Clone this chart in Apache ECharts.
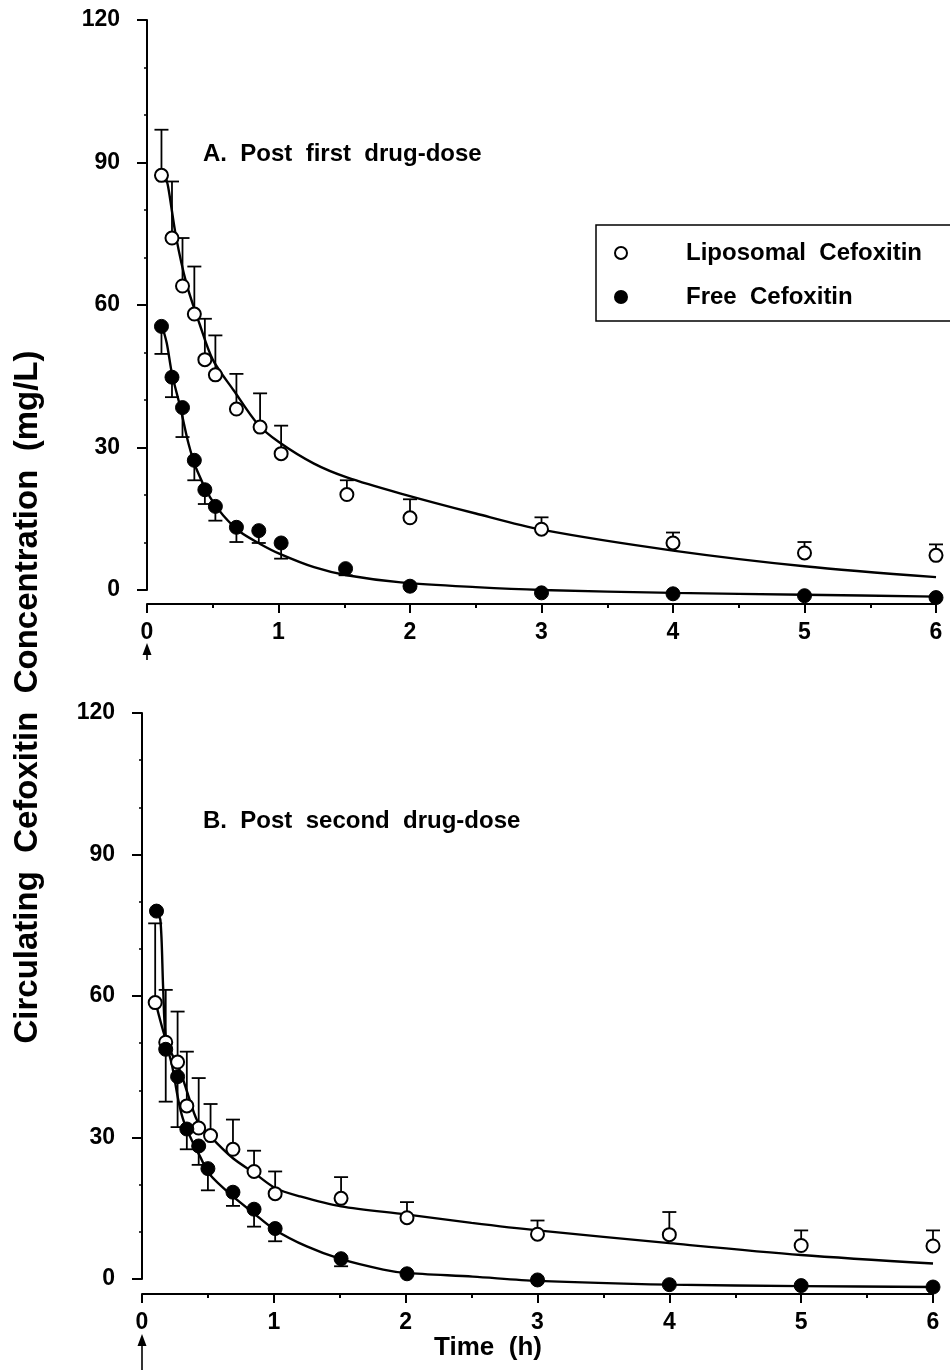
<!DOCTYPE html>
<html>
<head>
<meta charset="UTF-8">
<title>Circulating Cefoxitin Concentration</title>
<script src="https://cdn.jsdelivr.net/npm/echarts@6.0.0/dist/echarts.min.js"></script>
<style>
  html, body { margin: 0; padding: 0; background: #fff; }
  #chart { width: 950px; height: 1370px; }
</style>
</head>
<body>
<div id="chart"></div>
<script>
// =========================
// Data
// =========================
const xTicks = [0, 1, 2, 3, 4, 5, 6];
const yTicks = [0, 30, 60, 90, 120];

// A. Post first drug-dose
const timeA_lipo = [0.11, 0.19, 0.27, 0.36, 0.44, 0.52, 0.68, 0.86, 1.02, 1.52, 2, 3, 4, 5, 6];
const concA_lipo = [87.3, 74.1, 64.0, 58.1, 48.5, 45.3, 38.1, 34.3, 28.7, 20.1, 15.2, 12.8, 9.9, 7.8, 7.3];
const errA_lipo  = [96.9, 86.0, 74.1, 68.1, 57.1, 53.6, 45.5, 41.4, 34.6, 23.1, 19.1, 15.3, 12.1, 10.1, 9.6];

const timeA_free = [0.11, 0.19, 0.27, 0.36, 0.44, 0.52, 0.68, 0.85, 1.02, 1.51, 2, 3, 4, 5, 6];
const concA_free = [55.5, 44.8, 38.4, 27.3, 21.1, 17.6, 13.2, 12.5, 9.9, 4.5, 0.8, -0.6, -0.8, -1.2, -1.6];
const errA_free  = [49.7, 40.6, 32.2, 23.1, 18.1, 14.6, 10.1, 9.9, 6.6, 3.1, null, null, null, null, null];

const fitA_lipo_t = [0.13, 0.16, 0.22, 0.3, 0.4, 0.5, 0.66, 0.84, 1.0, 1.27, 1.52, 1.93, 2.5, 3, 4, 5, 6];
const fitA_lipo_v = [88, 85, 74.5, 64.5, 56, 48.5, 42, 35, 31.2, 26.6, 23.7, 20.3, 16.1, 12.7, 8.3, 5.0, 2.7];
const fitA_free_t = [0.11, 0.15, 0.19, 0.253, 0.316, 0.38, 0.48, 0.58, 0.71, 0.86, 1.01, 1.27, 1.52, 1.93, 2.5, 3, 4, 5, 6];
const fitA_free_v = [56, 52, 45.5, 38.5, 30.8, 25.2, 19.5, 15.7, 12.2, 9.7, 7.6, 4.8, 3.1, 1.6, 0.6, 0, -0.6, -1.0, -1.4];

// B. Post second drug-dose
const timeB_lipo = [0.10, 0.18, 0.27, 0.34, 0.43, 0.52, 0.69, 0.85, 1.01, 1.51, 2.01, 3, 4, 5, 6];
const concB_lipo = [58.6, 50.2, 46.0, 36.7, 32.0, 30.4, 27.5, 22.8, 18.1, 17.1, 13.0, 9.5, 9.4, 7.1, 7.0];
const errB_lipo  = [75.4, 61.3, 56.7, 48.2, 42.6, 37.1, 33.8, 27.2, 22.8, 21.6, 16.3, 12.4, 14.2, 10.3, 10.3];

const timeB_free = [0.11, 0.18, 0.27, 0.34, 0.43, 0.50, 0.69, 0.85, 1.01, 1.51, 2.01, 3, 4, 5, 6];
const concB_free = [78.0, 48.7, 42.9, 31.8, 28.2, 23.4, 18.4, 14.8, 10.7, 4.3, 1.1, -0.2, -1.2, -1.4, -1.7];
const errB_free  = [null, 37.6, 32.2, 27.5, 24.2, 18.8, 15.5, 11.1, 8.0, 2.7, null, null, null, null, null];

const fitB_lipo_t = [0.1, 0.19, 0.29, 0.35, 0.42, 0.52, 0.69, 0.85, 1.01, 1.2, 1.51, 2.0, 2.5, 3, 4, 5, 6];
const fitB_lipo_v = [59, 50, 44, 39, 33.5, 30.2, 25.6, 22.5, 19.3, 17.5, 15.4, 13.7, 11.9, 10.3, 7.6, 5.1, 3.3];
const fitB_free_t = [0.11, 0.14, 0.16, 0.18, 0.23, 0.275, 0.31, 0.36, 0.44, 0.516, 0.69, 0.845, 1.01, 1.25, 1.51, 1.83, 2.0, 2.51, 3, 4, 5, 6];
const fitB_free_v = [78, 76, 62, 51, 45, 38, 34, 30.5, 26, 22.1, 17.5, 14, 10.4, 6.9, 4.2, 2.0, 1.3, 0.5, -0.4, -1.2, -1.5, -1.7];

const LIPO = 'Liposomal Cefoxitin';
const FREE = 'Free Cefoxitin';
const FONT = '"Liberation Sans", Arial, Helvetica, sans-serif';

// =========================
// Helpers
// =========================
const pairs = (xs, ys) => xs.map((x, i) => [x, ys[i]]);
const triples = (xs, ys, es) => xs.map((x, i) => [x, ys[i], es[i] == null ? '-' : es[i]]);

function errorBars(params, api) {
  const e = api.value(2);
  if (isNaN(e)) return null;
  const p1 = api.coord([api.value(0), api.value(1)]);
  const p2 = api.coord([api.value(0), e]);
  const hw = 7;
  const st = { stroke: '#000', lineWidth: 1.8 };
  return {
    type: 'group',
    children: [
      { type: 'line', shape: { x1: p1[0], y1: p1[1], x2: p2[0], y2: p2[1] }, style: st },
      { type: 'line', shape: { x1: p2[0] - hw, y1: p2[1], x2: p2[0] + hw, y2: p2[1] }, style: st }
    ]
  };
}

function panelSeries(idx, d) {
  const common = { xAxisIndex: idx, yAxisIndex: idx };
  return [
    { ...common, type: 'line', name: 'fit lipo ' + idx, data: pairs(d.fl_t, d.fl_v), smooth: 0.3,
      showSymbol: false, clip: false, silent: true, z: 2, lineStyle: { color: '#000', width: 2.4 } },
    { ...common, type: 'line', name: 'fit free ' + idx, data: pairs(d.ff_t, d.ff_v), smooth: 0.3,
      showSymbol: false, clip: false, silent: true, z: 2, lineStyle: { color: '#000', width: 2.4 } },
    { ...common, type: 'custom', name: 'err lipo ' + idx, renderItem: errorBars, z: 3,
      data: triples(d.lt, d.lv, d.le), encode: { x: 0, y: 1 } },
    { ...common, type: 'custom', name: 'err free ' + idx, renderItem: errorBars, z: 3,
      data: triples(d.ft, d.fv, d.fe), encode: { x: 0, y: 1 } },
    { ...common, type: 'scatter', name: LIPO, data: pairs(d.lt, d.lv), symbol: 'circle', symbolSize: 13,
      clip: false, z: 5, itemStyle: { color: '#fff', borderColor: '#000', borderWidth: 2, opacity: 1 } },
    { ...common, type: 'scatter', name: FREE, data: pairs(d.ft, d.fv), symbol: 'circle', symbolSize: 14,
      clip: false, z: 5, itemStyle: { color: '#000', borderColor: '#000', borderWidth: 1, opacity: 1 } }
  ];
}

function xAxisFor(idx, offset) {
  return {
    type: 'value', gridIndex: idx, min: xTicks[0], max: xTicks[xTicks.length - 1], interval: 1,
    offset: offset,
    axisLine: { onZero: false, lineStyle: { color: '#000', width: 2 } },
    axisTick: { length: 9, lineStyle: { color: '#000', width: 2 } },
    minorTick: { show: true, splitNumber: 2, length: 4, lineStyle: { color: '#000', width: 2 } },
    splitLine: { show: false },
    axisLabel: { color: '#000', fontSize: 23, fontWeight: 'bold', fontFamily: FONT, margin: 17 }
  };
}

function yAxisFor(idx) {
  return {
    type: 'value', gridIndex: idx, min: yTicks[0], max: yTicks[yTicks.length - 1], interval: 30,
    offset: 10,
    axisLine: { lineStyle: { color: '#000', width: 2 } },
    axisTick: { length: 10, lineStyle: { color: '#000', width: 2 } },
    minorTick: { show: true, splitNumber: 3, length: 3, lineStyle: { color: '#000', width: 1.5 } },
    splitLine: { show: false },
    axisLabel: { color: '#000', fontSize: 23, fontWeight: 'bold', fontFamily: FONT, margin: 17 }
  };
}

// =========================
// Chart
// =========================
const chart = echarts.init(document.getElementById('chart'), null, { renderer: 'canvas' });

const option = {
  backgroundColor: '#fff',
  animation: false,
  grid: [
    { left: 147, top: 20, width: 789, height: 570, outerBoundsMode: 'none' },
    { left: 142, top: 713, width: 791, height: 566, outerBoundsMode: 'none' }
  ],
  xAxis: [xAxisFor(0, 14), xAxisFor(1, 15)],
  yAxis: [yAxisFor(0), yAxisFor(1)],
  title: [
    { text: 'A.  Post  first  drug-dose', left: 203, top: 142, padding: 0,
      textStyle: { fontSize: 24, fontWeight: 'bold', fontFamily: FONT, color: '#000' } },
    { text: 'B.  Post  second  drug-dose', left: 203, top: 809, padding: 0,
      textStyle: { fontSize: 24, fontWeight: 'bold', fontFamily: FONT, color: '#000' } }
  ],
  legend: {
    data: [LIPO, FREE],
    orient: 'vertical',
    left: 596, top: 225,
    padding: [16, 60, 12, 18],
    itemGap: 20,
    itemWidth: 12, itemHeight: 12,
    borderColor: '#000', borderWidth: 1.5,
    formatter: name => name.replace(' ', '  '),
    textStyle: { fontSize: 24, fontWeight: 'bold', fontFamily: FONT, color: '#000', padding: [0, 0, 0, 54] }
  },
  series: [
    ...panelSeries(0, {
      lt: timeA_lipo, lv: concA_lipo, le: errA_lipo,
      ft: timeA_free, fv: concA_free, fe: errA_free,
      fl_t: fitA_lipo_t, fl_v: fitA_lipo_v, ff_t: fitA_free_t, ff_v: fitA_free_v
    }),
    ...panelSeries(1, {
      lt: timeB_lipo, lv: concB_lipo, le: errB_lipo,
      ft: timeB_free, fv: concB_free, fe: errB_free,
      fl_t: fitB_lipo_t, fl_v: fitB_lipo_v, ff_t: fitB_free_t, ff_v: fitB_free_v
    })
  ]
};

chart.setOption(option);

// Axis titles and dosing arrows (placed from the axes' own scales)
function arrow(x, tip, tail) {
  return [
    { type: 'line', shape: { x1: x, y1: tip + 8, x2: x, y2: tail }, style: { stroke: '#000', lineWidth: 1.6 } },
    { type: 'polygon', shape: { points: [[x, tip], [x - 4.5, tip + 12], [x + 4.5, tip + 12]] }, style: { fill: '#000' } }
  ];
}

const x0A = chart.convertToPixel({ xAxisIndex: 0 }, 0);
const x0B = chart.convertToPixel({ xAxisIndex: 1 }, 0);
const y0A = chart.convertToPixel({ yAxisIndex: 0 }, 0);
const y0B = chart.convertToPixel({ yAxisIndex: 1 }, 0);

chart.setOption({
  graphic: [
    ...arrow(x0A, y0A + 53, y0A + 70),
    ...arrow(x0B, y0B + 55, 1370),
    { type: 'text', x: 28, y: 697, rotation: Math.PI / 2,
      style: { text: 'Circulating  Cefoxitin  Concentration  (mg/L)', fontSize: 33, fontWeight: 'bold',
               fontFamily: FONT, fill: '#000', align: 'center', verticalAlign: 'middle' } },
    { type: 'text', x: 488, y: 1348,
      style: { text: 'Time  (h)', fontSize: 26, fontWeight: 'bold', fontFamily: FONT, fill: '#000',
               align: 'center', verticalAlign: 'middle' } }
  ]
});
</script>
</body>
</html>
